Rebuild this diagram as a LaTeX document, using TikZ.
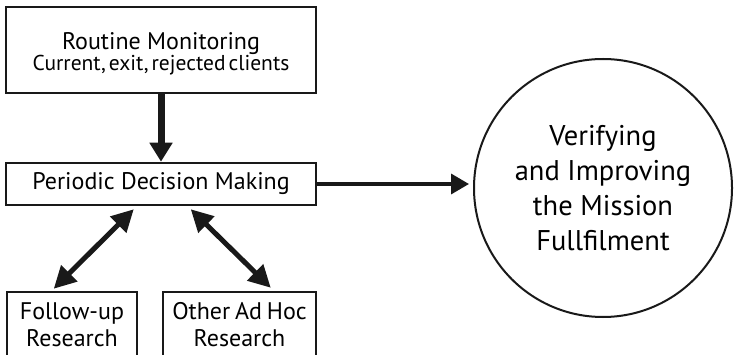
\documentclass[tikz,border=0pt]{standalone}
\usepackage{fontspec}
\setmainfont{PT Sans}
\usetikzlibrary{arrows.meta,calc}
\begin{document}
\begin{tikzpicture}[x=1pt,y=-1pt,
  box/.style={draw=black!90,line width=2.5pt,rectangle,inner sep=0pt,align=center,fill=white},
  big/.style={font=\fontsize{24}{27}\selectfont},
  conn/.style={draw=black!90,line width=5pt,{Triangle[length=22pt,width=22pt]}-{Triangle[length=22pt,width=22pt]}}
]
\useasboundingbox (0,0) rectangle (735,355);
\clip (0,0) rectangle (735,355);
\node[box,minimum width=310pt,minimum height=86pt] (mon) at (161,50) {};
\node[align=center,inner sep=0pt] (monT) at (161,54)
  {{\fontsize{24}{22}\selectfont Routine Monitoring}\\[0pt]{\fontsize{21.5}{22}\selectfont\spaceskip=0.14em Current, exit, rejected clients}};
\node[box,big,minimum width=310pt,minimum height=42pt] (dec) at (161,184) {Periodic Decision Making};
\node[box,big,minimum width=130pt,minimum height=66pt,text width=130pt] (fol) at (72,325) {Follow-up\\Research};
\node[box,big,minimum width=153pt,minimum height=66pt,text width=153pt] (oth) at (239.5,325) {\spaceskip=0.2em Other Ad Hoc\\Research};
\node[draw=black!90,line width=2pt,circle,minimum size=258pt,inner sep=0pt,align=center,
  font=\fontsize{28.5}{35}\selectfont] (goal) at (603,188) {Verifying\\and Improving\\the Mission\\Fullfilment};
\draw[draw=black!90,line width=7pt,-{Triangle[length=19pt,width=22pt]}] (mon.south) -- (dec.north);
\draw[draw=black!90,line width=3.5pt,-{Triangle[length=18pt,width=20pt]},shorten >=4pt] (dec.east) -- (dec.east -| goal.west);
\draw[conn] ($(fol.north west)+(48,-2)$) -- ($(dec.south west)+(129,3)$);
\draw[conn] ($(dec.south west)+(186,3)$) -- ($(oth.north west)+(109,-3)$);
\end{tikzpicture}
\end{document}
